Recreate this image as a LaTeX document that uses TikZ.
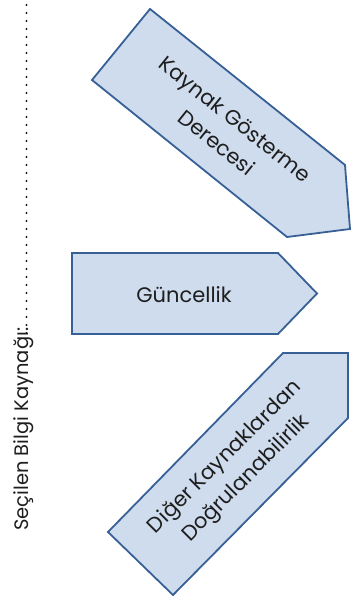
\documentclass[tikz,border=0pt]{standalone}
\usepackage{fontspec}
\setmainfont{Poppins}
\definecolor{boxfill}{RGB}{207,220,237}
\definecolor{boxline}{RGB}{55,96,150}
\definecolor{inktext}{RGB}{30,30,30}
\begin{document}
\begin{tikzpicture}[x=1pt,y=-1pt,
  arrowshape/.style={draw=boxline, fill=boxfill, line width=1.8pt, line join=miter},
  boxtext/.style={font=\fontsize{21}{30}\selectfont, align=center, inner sep=0pt, text=inktext},
  sidetext/.style={font=\fontsize{19.5}{23}\selectfont, inner sep=0pt, text=inktext},
  leader/.style={line width=2.3pt, line cap=round, dash pattern=on 0pt off 8pt, inktext}]
\useasboundingbox (0,0) rectangle (351,596);
% top arrow
\draw[arrowshape] (150,9) -- (345,165) -- (350,229) -- (287,237) -- (92,80) -- cycle;
\node[boxtext, rotate=-38.7] (kaynak) at (226,131) {Kaynak Gösterme\\Derecesi};
% middle arrow
\draw[arrowshape] (72,253) -- (278,253) -- (317,293.5) -- (278,334) -- (72,334) -- cycle;
\node[boxtext] (guncel) at (184,295) {Güncellik};
% bottom arrow
\draw[arrowshape] (108,532) -- (283,353) -- (348,353) -- (348,418) -- (173,595) -- cycle;
\node[boxtext, rotate=45] (diger) at (236,468) {Diğer Kaynaklardan\\Doğrulanabilirlik};
% side label
\node[sidetext, rotate=90, anchor=base west] (secilen) at (28,531) {Seçilen Bilgi Kaynağı:};
\coordinate (dotstart) at (26.5,333);
\coordinate (dotend) at (26.5,2);
\draw[leader] (dotstart) -- (dotend);
\end{tikzpicture}
\end{document}
